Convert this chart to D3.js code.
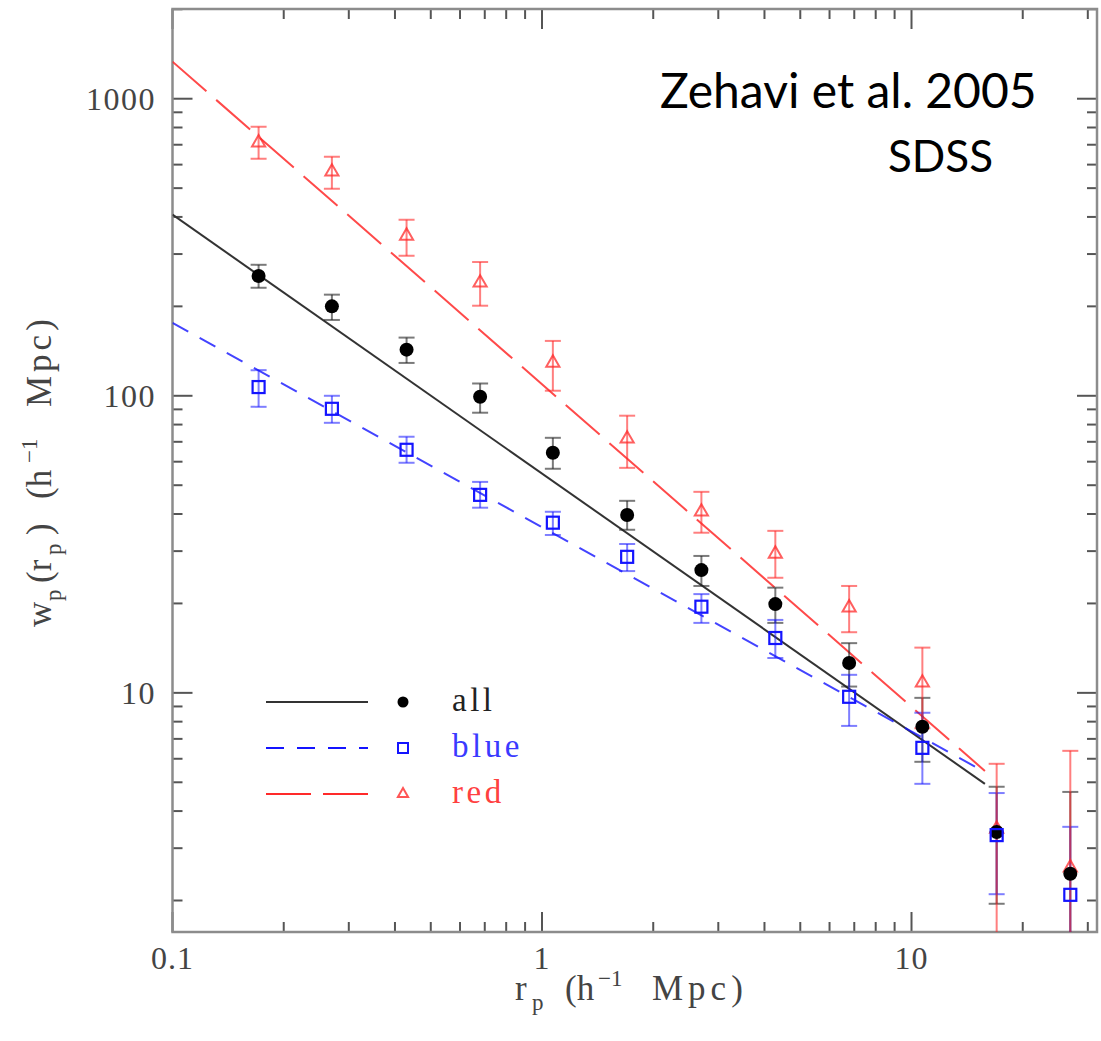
<!DOCTYPE html>
<html>
<head>
<meta charset="utf-8">
<script src="https://cdn.jsdelivr.net/npm/d3@7"></script>
<style>
  html, body { margin: 0; padding: 0; background: #fff; }
  svg { display: block; }
</style>
</head>
<body>
<svg id="chart" width="1101" height="1041"></svg>
<script>
// ---- data ----
const rp = [0.171, 0.27, 0.43, 0.68, 1.07, 1.70, 2.70, 4.28, 6.78, 10.7, 17.0, 26.9];

const wpAll   = [253, 200, 143, 99.3, 64.3, 39.7, 25.9, 19.9, 12.6, 7.69, 3.40, 2.46];
const wpAllHi = [276, 219, 157, 110, 72.2, 44.3, 28.9, 22.6, 14.7, 9.62, 4.83, 4.64];
const wpAllLo = [231, 180, 129, 87.7, 56.8, 35.4, 22.9, 17.2, 10.5, 5.86, 1.95, 0.5];

const wpBlue   = [107, 90.4, 65.8, 46.4, 37.4, 28.7, 19.5, 15.3, 9.7, 6.53, 3.32, 2.09];
const wpBlueHi = [122, 100, 72.8, 51.3, 40.7, 31.7, 21.5, 17.6, 11.5, 8.57, 4.6, 3.54];
const wpBlueLo = [91.8, 81.1, 59.5, 42.0, 34.0, 25.7, 17.2, 13.1, 7.74, 4.94, 2.1, 0.5];

const wpRed   = [717, 572, 348, 242, 130, 72.2, 41.0, 29.6, 19.5, 10.9, 3.51, 2.6];
const wpRedHi = [805, 638, 391, 282, 153, 85.7, 47.5, 35.1, 22.9, 14.2, 5.77, 6.38];
const wpRedLo = [628, 498, 296, 201, 104, 57.2, 34.6, 24.4, 16.0, 7.6, 0.5, 0.5];

// power-law fits
const fitX    = [0.1, 15.8];
const fitAll  = [407, 4.94];
const fitBlue = [176, 5.41];
const fitRed  = [1332, 5.46];

const xTickLabels = ["0.1", "1", "10"];
const yTickLabels = ["10", "100", "1000"];
const legendLabels = ["all", "blue", "red"];

// ---- layout ----
const svg = d3.select("#chart");
const L = 172.5, R = 1097, T = 9, B = 932;

const x = d3.scaleLog().domain([0.1, Math.pow(10, 1.502)]).range([L, R]);
const y = d3.scaleLog().domain([Math.pow(10, 0.195), Math.pow(10, 3.302)]).range([B, T]);

const colAll = "#000", colBlue = "#1414ff", colRed = "#ff2a2a";

svg.append("defs").append("clipPath").attr("id", "clip")
  .append("rect").attr("x", L).attr("y", T).attr("width", R - L).attr("height", B - T);

// ---- ticks ----
function minorTicks(scale) {
  const [a, b] = scale.domain();
  const out = [];
  for (let e = Math.floor(Math.log10(a)); e <= Math.ceil(Math.log10(b)); e++) {
    for (let m = 1; m <= 9; m++) {
      const v = m * Math.pow(10, e);
      if (v >= a * 0.999 && v <= b * 1.001) out.push({ v, major: m === 1 });
    }
  }
  return out;
}
const tickCol = "#555", frameCol = "#8c8c8c";
const tg = svg.append("g");
minorTicks(x).forEach(t => {
  const len = t.major ? 20 : 10;
  const px = x(t.v);
  tg.append("line").attr("x1", px).attr("x2", px).attr("y1", B).attr("y2", B - len)
    .attr("stroke", tickCol).attr("stroke-width", 2);
  tg.append("line").attr("x1", px).attr("x2", px).attr("y1", T).attr("y2", T + len)
    .attr("stroke", tickCol).attr("stroke-width", 2);
});
minorTicks(y).forEach(t => {
  const len = t.major ? 20 : 10;
  const py = y(t.v);
  tg.append("line").attr("x1", L).attr("x2", L + len).attr("y1", py).attr("y2", py)
    .attr("stroke", tickCol).attr("stroke-width", 2);
  tg.append("line").attr("x1", R).attr("x2", R - len).attr("y1", py).attr("y2", py)
    .attr("stroke", tickCol).attr("stroke-width", 2);
});
svg.append("rect").attr("x", L).attr("y", T).attr("width", R - L).attr("height", B - T)
  .attr("fill", "none").attr("stroke", frameCol).attr("stroke-width", 2.5);

// tick labels
const serif = "'Liberation Serif', 'DejaVu Serif', serif";
[0.1, 1, 10].forEach((v, i) => {
  svg.append("text").attr("x", x(v)).attr("y", 969).attr("text-anchor", "middle")
    .attr("font-family", serif).attr("font-size", 32).attr("letter-spacing", 1)
    .attr("fill", "#444").text(xTickLabels[i]);
});
[10, 100, 1000].forEach((v, i) => {
  svg.append("text").attr("x", 156).attr("y", y(v) + 11).attr("text-anchor", "end")
    .attr("font-family", serif).attr("font-size", 32).attr("letter-spacing", 1.5)
    .attr("fill", "#444").text(yTickLabels[i]);
});

// axis titles (pieces placed along the baseline like the original's wide lettering)
function titlePieces(sel, pieces) {
  pieces.forEach(p => {
    sel.append("tspan").attr("x", p.x).attr("y", p.dy || 0)
      .attr("font-size", p.small ? 23 : 35).attr("letter-spacing", p.ls || 0).text(p.t);
  });
}
const xt = svg.append("g").attr("transform", "translate(515,1000)")
  .append("text").attr("font-family", serif).attr("fill", "#444");
titlePieces(xt, [
  { t: "r", x: 0 }, { t: "p", x: 17, dy: 10, small: true },
  { t: "(h", x: 50 }, { t: "−1", x: 83, dy: -14, small: true },
  { t: "Mpc)", x: 137, ls: 5 }
]);

const yt = svg.append("g").attr("transform", "translate(51,627) rotate(-90)")
  .append("text").attr("font-family", serif).attr("fill", "#444");
titlePieces(yt, [
  { t: "w", x: 0 }, { t: "p", x: 26, dy: 10, small: true },
  { t: "(r", x: 44 }, { t: "p", x: 72, dy: 10, small: true },
  { t: ")", x: 92 },
  { t: "(h", x: 128 }, { t: "−1", x: 164, dy: -14, small: true },
  { t: "Mpc)", x: 220, ls: 4 }
]);

// ---- plot content ----
const plot = svg.append("g").attr("clip-path", "url(#clip)");
const line = d3.line().x(d => x(d[0])).y(d => y(d[1]));

plot.append("path").datum(fitX.map((v, i) => [v, fitAll[i]])).attr("d", line)
  .attr("fill", "none").attr("stroke", "#333").attr("stroke-width", 2);
plot.append("path").datum(fitX.map((v, i) => [v, fitBlue[i]])).attr("d", line)
  .attr("fill", "none").attr("stroke", colBlue).attr("stroke-width", 2).attr("stroke-opacity", 0.8)
  .attr("stroke-dasharray", "18,13");
plot.append("path").datum(fitX.map((v, i) => [v, fitRed[i]])).attr("d", line)
  .attr("fill", "none").attr("stroke", colRed).attr("stroke-width", 2).attr("stroke-opacity", 0.85)
  .attr("stroke-dasharray", "45,13");

function errorBars(vals, lo, hi, col, op) {
  const g = plot.append("g").attr("stroke", col).attr("stroke-width", 2).attr("stroke-opacity", op);
  rp.forEach((r, i) => {
    const px = x(r);
    g.append("line").attr("x1", px).attr("x2", px).attr("y1", y(lo[i])).attr("y2", y(hi[i]));
    g.append("line").attr("x1", px - 8).attr("x2", px + 8).attr("y1", y(lo[i])).attr("y2", y(lo[i]));
    g.append("line").attr("x1", px - 8).attr("x2", px + 8).attr("y1", y(hi[i])).attr("y2", y(hi[i]));
  });
}
errorBars(wpAll, wpAllLo, wpAllHi, "#222", 0.6);
errorBars(wpBlue, wpBlueLo, wpBlueHi, colBlue, 0.55);
errorBars(wpRed, wpRedLo, wpRedHi, colRed, 0.6);

// markers
const tri = d3.symbol().type(d3.symbolTriangle).size(75);
plot.append("g").selectAll("path").data(rp).join("path")
  .attr("transform", (d, i) => `translate(${x(d)},${y(wpRed[i]) + 1})`)
  .attr("d", tri).attr("fill", "none").attr("stroke", colRed).attr("stroke-width", 2).attr("stroke-opacity", 0.75);
plot.append("g").selectAll("circle").data(rp).join("circle")
  .attr("cx", d => x(d)).attr("cy", (d, i) => y(wpAll[i])).attr("r", 7).attr("fill", colAll);
plot.append("g").selectAll("rect").data(rp).join("rect")
  .attr("x", d => x(d) - 6).attr("y", (d, i) => y(wpBlue[i]) - 6).attr("width", 12).attr("height", 12)
  .attr("fill", "none").attr("stroke", colBlue).attr("stroke-width", 2.2);

// ---- legend ----
const legY = [702, 748, 794];
const lg = svg.append("g");
lg.append("line").attr("x1", 266).attr("x2", 368).attr("y1", legY[0]).attr("y2", legY[0])
  .attr("stroke", "#333").attr("stroke-width", 2);
lg.append("line").attr("x1", 266).attr("x2", 368).attr("y1", legY[1]).attr("y2", legY[1])
  .attr("stroke", colBlue).attr("stroke-width", 2).attr("stroke-dasharray", "18,13");
lg.append("line").attr("x1", 266).attr("x2", 368).attr("y1", legY[2]).attr("y2", legY[2])
  .attr("stroke", colRed).attr("stroke-width", 2).attr("stroke-dasharray", "45,12");
lg.append("circle").attr("cx", 403).attr("cy", legY[0]).attr("r", 5.5).attr("fill", "#000");
lg.append("rect").attr("x", 398).attr("y", legY[1] - 5).attr("width", 10).attr("height", 10)
  .attr("fill", "none").attr("stroke", colBlue).attr("stroke-width", 2);
lg.append("path").attr("transform", `translate(403,${legY[2]})`)
  .attr("d", d3.symbol().type(d3.symbolTriangle).size(45)).attr("fill", "none")
  .attr("stroke", colRed).attr("stroke-width", 2).attr("stroke-opacity", 0.8);
const legCols = ["#222", "#3a3aff", "#ff4040"];
legendLabels.forEach((t, i) => {
  lg.append("text").attr("x", 452).attr("y", legY[i] + 9).attr("font-family", serif)
    .attr("font-size", 33).attr("letter-spacing", 3.5).attr("fill", legCols[i]).text(t);
});

// ---- annotation ----
const sans = "Lato, 'Open Sans', sans-serif";
svg.append("text").attr("x", 660).attr("y", 108).attr("font-family", sans)
  .attr("font-size", 48).attr("fill", "#000").text("Zehavi et al. 2005");
svg.append("text").attr("x", 888).attr("y", 172).attr("font-family", sans)
  .attr("font-size", 44).attr("fill", "#000").text("SDSS");
</script>
</body>
</html>
